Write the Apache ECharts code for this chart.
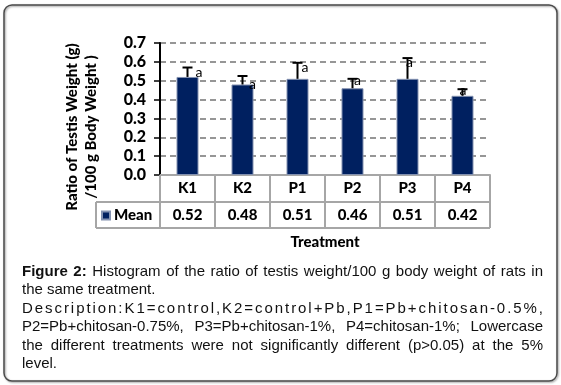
<!DOCTYPE html>
<html>
<head>
<meta charset="utf-8">
<script src="https://cdn.jsdelivr.net/npm/echarts@6/dist/echarts.min.js"></script>
<style>
  html, body { margin: 0; padding: 0; background: #fff; }
  #wrap { position: relative; width: 561px; height: 385px; }
  #chart { position: absolute; left: 0; top: 0; width: 561px; height: 385px; }
  #caption { position: absolute; left: 22px; top: 262px; width: 521px;
    font-family: "Liberation Sans", Arial, sans-serif; font-size: 15px; line-height: 18.4px; color: #111; }
  #caption div { white-space: nowrap; }
  #caption .j { text-align: justify; text-align-last: justify; }
</style>
</head>
<body>
<div id="wrap">
  <div id="chart"></div>
  <div id="caption">
    <div class="j"><b>Figure 2:</b> Histogram of the ratio of testis weight/100 g body weight of rats in</div>
    <div>the same treatment.</div>
    <div id="descLine">Description:K1=control,K2=control+Pb,P1=Pb+chitosan-0.5%,</div>
    <div class="j">P2=Pb+chitosan-0.75%, P3=Pb+chitosan-1%, P4=chitosan-1%; Lowercase</div>
    <div class="j">the different treatments were not significantly different (p&gt;0.05) at the 5%</div>
    <div>level.</div>
  </div>
</div>
<script>
// ---- data ----
const categories = ['K1', 'K2', 'P1', 'P2', 'P3', 'P4'];
const meanValues = [0.52, 0.48, 0.51, 0.46, 0.51, 0.42];
const errorValues = [0.05, 0.045, 0.085, 0.05, 0.11, 0.035];
const sigLetters = ['a', 'a', 'a', 'a', 'a', 'a'];
const yMin = 0, yMax = 0.7, yStep = 0.1;
const seriesName = 'Mean';
const yTitle = 'Ratio of Testis Weight (g)\n/100 g Body Weight )';
const xTitle = 'Treatment';

// ---- layout / style (not data) ----
const letterDx = [11.5, 10, 7.5, 5, 2, 0.5];
const letterDy = [5, 8, 5, 2, 4, 1];
const G = { left: 160, right: 71, top: 43, bottom: 210 };
const FONT = 'Lato, "Liberation Sans", sans-serif';
const W = 900;
const tableGray = '#a6a6a6';

const chart = echarts.init(document.getElementById('chart'), null, { renderer: 'canvas' });

const errData = meanValues.map((m, i) => [i, m, errorValues[i]]);

const plotBottom = 385 - G.bottom;      // y of 0 line
const row1 = plotBottom + 27;           // line under category row
const row2 = plotBottom + 53;           // bottom of table
const plotRight = 561 - G.right;
const tableLeft = 96;

chart.setOption({
  animation: false,
  backgroundColor: '#fff',
  textStyle: { fontFamily: FONT },
  grid: { left: G.left, right: G.right, top: G.top, bottom: G.bottom, containLabel: false },
  legend: {
    data: [seriesName], left: 101, top: 208, padding: 0, icon: 'rect', itemWidth: 8, itemHeight: 8,
    textStyle: { fontFamily: FONT, fontWeight: W, fontSize: 15, color: '#000', padding: [0, 0, 0, -1] },
    selectedMode: false
  },
  xAxis: [
    {
      type: 'category', data: categories, position: 'bottom', gridIndex: 0,
      axisLine: { show: true, lineStyle: { color: tableGray, width: 2 } },
      axisTick: { show: true, interval: 0, length: 53, lineStyle: { color: tableGray, width: 2 } },
      axisLabel: { margin: 6, fontFamily: FONT, fontWeight: W, fontSize: 15, color: '#000' },
      splitLine: { show: false }
    },
    {
      type: 'category', data: meanValues.map(v => v.toFixed(2)), position: 'bottom', gridIndex: 0, offset: 27,
      axisLine: { show: false }, axisTick: { show: false },
      axisLabel: { margin: 6, fontFamily: FONT, fontWeight: W, fontSize: 15, color: '#000' },
      name: xTitle, nameLocation: 'middle', nameGap: 33,
      nameTextStyle: { fontFamily: FONT, fontWeight: W, fontSize: 15, color: '#000' }
    }
  ],
  yAxis: {
    type: 'value', min: yMin, max: yMax, interval: yStep,
    axisLine: { show: true, lineStyle: { color: '#000', width: 2 } },
    axisTick: { show: true, inside: false, length: 6, lineStyle: { color: '#000', width: 1.5 } },
    axisLabel: { margin: 14, formatter: v => v.toFixed(1), fontFamily: FONT, fontWeight: W, fontSize: 16, color: '#000' },
    splitLine: { show: true, lineStyle: { color: '#969696', width: 2, type: [6, 4] } }
  },
  series: [
    {
      name: seriesName, type: 'bar', data: meanValues, barWidth: 22, xAxisIndex: 0, yAxisIndex: 0,
      itemStyle: { color: '#002060', borderColor: '#8391b0', borderWidth: 1 }, z: 3
    },
    {
      type: 'custom', xAxisIndex: 0, yAxisIndex: 0, data: errData, encode: { x: 0, y: 1 }, z: 4,
      renderItem: function (params, api) {
        const i = api.value(0), m = api.value(1), e = api.value(2);
        const top = api.coord([i, m + e]);
        const base = api.coord([i, m]);
        return {
          type: 'group', children: [
            { type: 'line', shape: { x1: top[0], y1: base[1], x2: top[0], y2: top[1] }, style: { stroke: '#000', lineWidth: 2 } },
            { type: 'line', shape: { x1: top[0] - 5, y1: top[1], x2: top[0] + 5, y2: top[1] }, style: { stroke: '#000', lineWidth: 2 } },
            { type: 'text', x: top[0] + letterDx[i], y: top[1] + letterDy[i],
              style: { text: sigLetters[i], fill: '#000', font: '14px Lato, "Liberation Sans", sans-serif', align: 'center', verticalAlign: 'middle' } }
          ]
        };
      }
    }
  ],
  graphic: [
    { type: 'rect', shape: { x: 4, y: 5, width: 553, height: 376, r: 8 },
      style: { fill: 'none', stroke: '#4a4a4a', lineWidth: 1.5, shadowBlur: 2, shadowOffsetX: 1, shadowOffsetY: 1, shadowColor: 'rgba(0,0,0,0.4)' }, z: 0, silent: true },
    { type: 'text', x: 82, y: 127, rotation: Math.PI / 2,
      style: { text: yTitle, fill: '#000', font: '900 15px Lato, "Liberation Sans", sans-serif', align: 'center', verticalAlign: 'middle', lineHeight: 19 } },
    { type: 'line', shape: { x1: tableLeft, y1: row1, x2: plotRight, y2: row1 }, style: { stroke: tableGray, lineWidth: 2 } },
    { type: 'line', shape: { x1: tableLeft, y1: row2, x2: plotRight, y2: row2 }, style: { stroke: tableGray, lineWidth: 2 } },
    { type: 'line', shape: { x1: tableLeft, y1: row1, x2: tableLeft, y2: row2 }, style: { stroke: tableGray, lineWidth: 2 } }
  ]
});

// stretch the description line across the full width, as in the figure
(function () {
  const el = document.getElementById('descLine');
  el.style.display = 'inline-block';
  const natural = el.getBoundingClientRect().width;
  const n = el.textContent.length;
  el.style.letterSpacing = ((521 - natural) / (n - 1)).toFixed(3) + 'px';
  el.style.display = 'block';
})();
</script>
</body>
</html>
